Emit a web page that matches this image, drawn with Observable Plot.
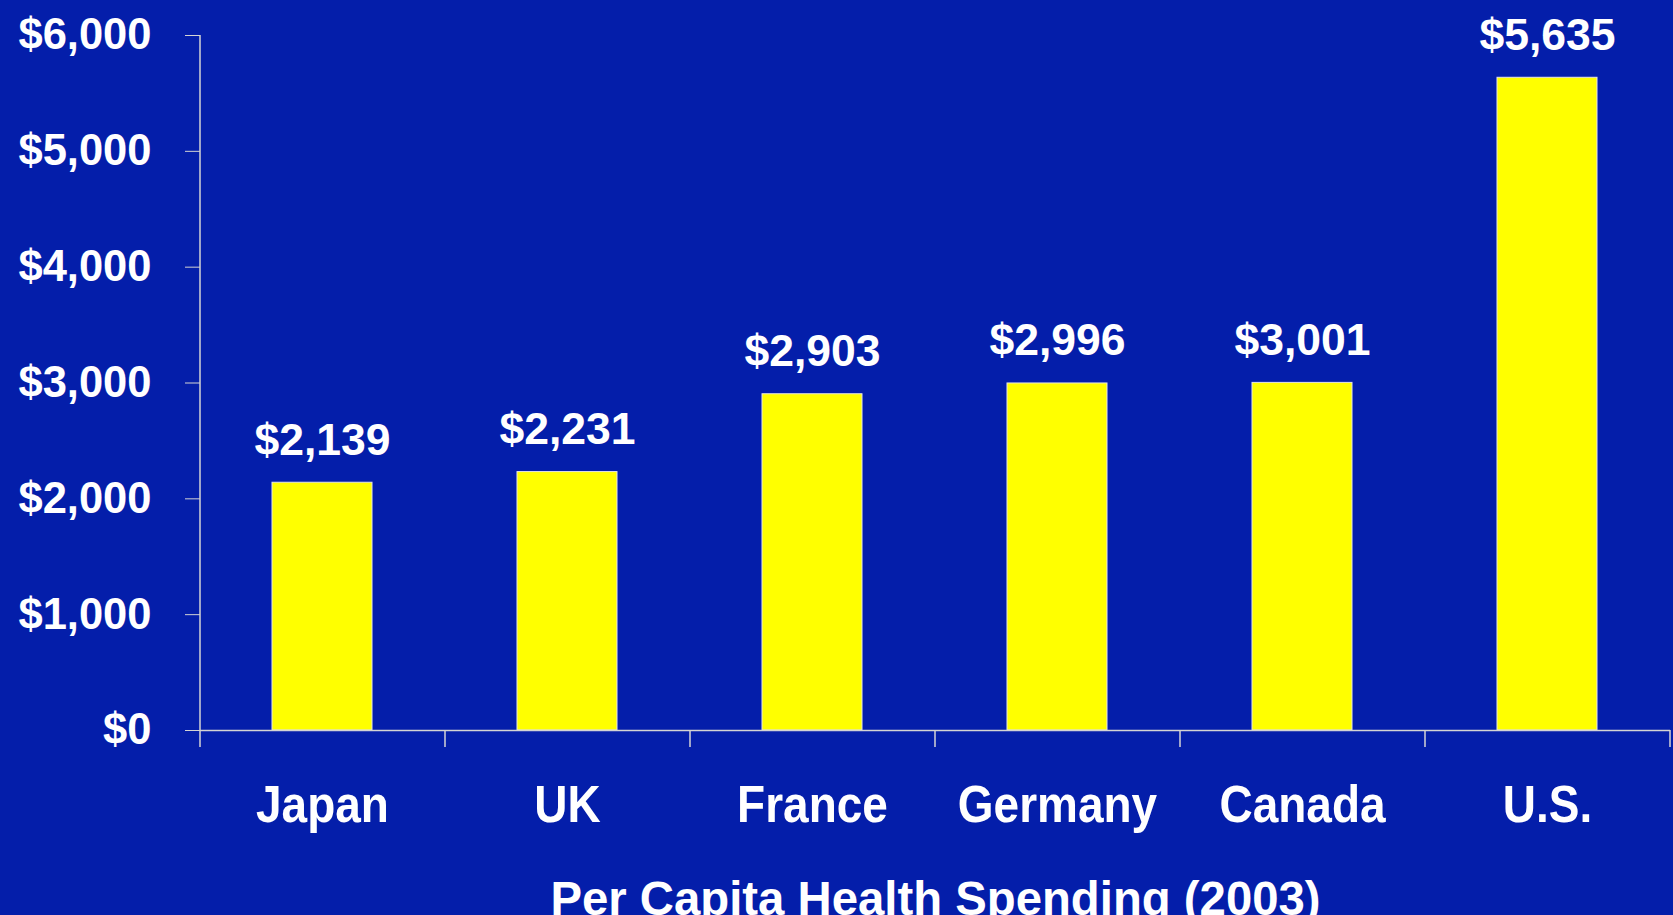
<!DOCTYPE html>
<html><head><meta charset="utf-8">
<script src="https://cdn.jsdelivr.net/npm/d3@7"></script>
<script src="https://cdn.jsdelivr.net/npm/@observablehq/plot@0.6"></script>
<style>html,body{margin:0;padding:0;background:#041EAA;overflow:hidden}</style>
</head><body><div id="chart"></div>
<script>
const countries = ["Japan", "UK", "France", "Germany", "Canada", "U.S."];
const spending = [2139, 2231, 2903, 2996, 3001, 5635];
const yTicks = [0, 1000, 2000, 3000, 4000, 5000, 6000];
const title = "Per Capita Health Spending (2003)";

const data = countries.map((c, i) => ({country: c, value: spending[i]}));
const fmt = d => "$" + d3.format(",")(d);

const W = 1673, H = 915, mL = 200, mR = 3;
const step = (W - mL - mR) / countries.length;
const font = "'Liberation Sans', Arial, Helvetica, sans-serif";

const chart = Plot.plot({
  width: W, height: H,
  marginTop: 35, marginBottom: 185, marginLeft: mL, marginRight: mR,
  style: {background: "#041EAA", color: "white", fontFamily: font, fontWeight: "bold", fontSize: "43px"},
  x: {domain: countries, paddingInner: 0.59, paddingOuter: 0.295, label: null},
  y: {domain: [0, 6000], label: null},
  marks: [
    Plot.barY(data, {x: "country", y: "value", fill: "#FFFF00", stroke: "#e6e6e6", strokeWidth: 1}),
    Plot.ruleY([0], {stroke: "#d4d4d4", strokeWidth: 1.5}),
    Plot.ruleX([countries[0]], {x: d => d, y1: 0, y2: 6000, dx: -step / 2, insetTop: 17, stroke: "#d4d4d4", strokeWidth: 1.5}),
    Plot.ruleX(countries, {x: d => d, y1: 0, y2: 0, dx: step / 2, insetTop: 17, stroke: "#d4d4d4", strokeWidth: 1.5}),
    Plot.axisY({ticks: yTicks, tickFormat: fmt, tickSize: 15, tickPadding: 34, stroke: "#d4d4d4", fill: "white", fontSize: 43.5, label: null}),
    Plot.axisX({tickSize: 0, tickPadding: 55, fill: "white", fontSize: 46, label: null}),
    Plot.text(data, {x: "country", y: "value", text: d => fmt(d.value), dy: -28, lineAnchor: "bottom", fontSize: 44.5, fill: "white", ariaLabel: "values"}),
    Plot.text([title], {frameAnchor: "bottom", dy: 184, lineAnchor: "bottom", fontSize: 47.3, fill: "white", ariaLabel: "title"})
  ]
});
document.getElementById("chart").appendChild(chart);

// vertical stretch of the slide's text boxes
function stretch(sel, k) {
  d3.select(chart).selectAll(sel).each(function () {
    const t = this.getAttribute("transform") || "";
    this.setAttribute("transform", t + ` scale(1,${k})`);
  });
}
stretch('g[aria-label="values"] text, g[aria-label="x-axis tick label"] text', 1.12);
stretch('g[aria-label="title"] text', 1.2);
</script>
</body></html>
